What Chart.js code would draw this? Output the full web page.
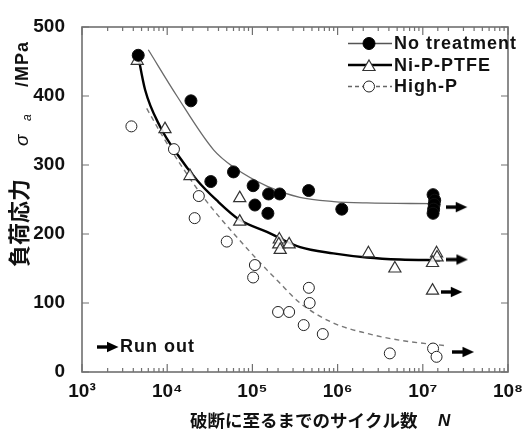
<!DOCTYPE html>
<html>
<head>
<meta charset="utf-8">
<script src="https://cdn.jsdelivr.net/npm/chart.js@4.4.0/dist/chart.umd.min.js"></script>
<style>
  html, body { margin: 0; padding: 0; background: #fff; }
  #wrap { width: 528px; height: 429px; position: relative; }
</style>
</head>
<body>
<div id="wrap"><canvas id="sn"></canvas></div>
<script>
// cycles to failure N and stress amplitude (MPa)
const noTreatN = [4570, 19000, 32500, 60000, 102000, 107000, 152000, 155000, 209000, 457000, 1.12e6, 1.32e7, 1.38e7, 1.36e7, 1.34e7, 1.32e7];
const noTreatS = [459, 393, 276, 290, 270, 242, 230, 258, 258, 263, 236, 257, 249, 243, 236, 230];

const ptfeN = [4450, 9420, 18500, 71000, 71000, 207000, 204000, 212000, 270000, 2.3e6, 4.7e6, 1.45e7, 1.47e7, 1.3e7, 1.3e7];
const ptfeS = [451, 352, 284, 252, 218, 192, 185, 177, 185, 172, 150, 172, 166, 158, 118];

const highPN = [3800, 12000, 23500, 21000, 50000, 107000, 102000, 200000, 270000, 460000, 470000, 400000, 670000, 4.1e6, 1.32e7, 1.45e7];
const highPS = [356, 323, 255, 223, 189, 155, 137, 87, 87, 122, 100, 68, 55, 27, 34, 22];

// fitted S-N curves (traced)
const noTreatFitN = [6000, 13000, 35000, 60000, 150000, 360000, 900000, 2.2e6, 1.3e7];
const noTreatFitS = [467, 400, 322, 297, 269, 253, 247, 245, 244];

const ptfeFitN = [4500, 5500, 8300, 12900, 22400, 38000, 70000, 148000, 363000, 890000, 2.2e6, 5.4e6, 1.6e7];
const ptfeFitS = [462, 409, 355, 317, 278, 249, 221, 203, 181, 172, 166, 163, 162];

const highPFitN = [5750, 8900, 14100, 26300, 60000, 148000, 195000, 363000, 890000, 2.2e6, 5.4e6, 1.9e7];
const highPFitS = [382, 341, 302, 254, 201, 148, 133, 100, 71, 56, 46, 38];

// run-out arrows
const runN = [2.5e7, 2.55e7, 2.19e7, 3.0e7];
const runS = [239, 163, 116, 29];

const yTicks = [0, 100, 200, 300, 400, 500];
const sup = { 3: '³', 4: '⁴', 5: '⁵', 6: '⁶', 7: '⁷', 8: '⁸' };

const pts = (xs, ys) => xs.map((x, i) => ({ x: x, y: ys[i] }));
const isDecade = v => Math.abs(Math.log10(v) - Math.round(Math.log10(v))) < 1e-9;

const LATIN = 'bold 18px "Liberation Sans", Arial, sans-serif';
const CJK = '"Noto Sans CJK JP", "Noto Sans", sans-serif';
const AXIS = '#707070';

function makeArrow() {
    const c = document.createElement('canvas');
    c.width = 22; c.height = 12;
    const g = c.getContext('2d');
    g.fillStyle = '#000';
    g.fillRect(0, 4.3, 12, 3.4);
    g.beginPath();
    g.moveTo(10, 0.8); g.lineTo(21.5, 6); g.lineTo(10, 11.2);
    g.closePath(); g.fill();
    return c;
}
const arrowImg = makeArrow();

const styles = {
    none: { pointStyle: 'circle', radius: 6, backgroundColor: '#000', borderColor: '#000', borderWidth: 1 },
    ptfe: { pointStyle: 'triangle', radius: 7, backgroundColor: '#fff', borderColor: '#333', borderWidth: 1.2 },
    highp: { pointStyle: 'circle', radius: 5.5, backgroundColor: '#fff', borderColor: '#222', borderWidth: 1 }
};

function marker(ctx, st, x, y) {
    ctx.beginPath();
    if (st.pointStyle === 'triangle') {
        const r = st.radius;
        ctx.moveTo(x, y - r);
        ctx.lineTo(x + r * 0.866, y + r / 2);
        ctx.lineTo(x - r * 0.866, y + r / 2);
        ctx.closePath();
    } else {
        ctx.arc(x, y, st.radius, 0, Math.PI * 2);
    }
    ctx.fill();
    ctx.stroke();
}

const decor = {
    id: 'decor',
    afterDraw(chart) {
        const ctx = chart.ctx;
        const ca = chart.chartArea;
        const xs = chart.scales.x, ys = chart.scales.y;
        ctx.save();
        // frame
        ctx.strokeStyle = AXIS;
        ctx.lineWidth = 1.6;
        ctx.strokeRect(ca.left, ca.top, ca.right - ca.left, ca.bottom - ca.top);
        // inward ticks
        ctx.lineWidth = 1.2;
        ctx.beginPath();
        xs.ticks.forEach(t => {
            const px = xs.getPixelForValue(t.value);
            const len = isDecade(t.value) ? 8 : 4;
            ctx.moveTo(px, ca.bottom); ctx.lineTo(px, ca.bottom - len);
            ctx.moveTo(px, ca.top); ctx.lineTo(px, ca.top + len);
        });
        yTicks.forEach(v => {
            const py = ys.getPixelForValue(v);
            ctx.moveTo(ca.left, py); ctx.lineTo(ca.left + 7, py);
            ctx.moveTo(ca.right, py); ctx.lineTo(ca.right - 7, py);
        });
        ctx.stroke();

        // legend
        const rows = [
            { label: 'No treatment', y: 43.5, line: '#555', lw: 1.4, dash: [], st: styles.none },
            { label: 'Ni-P-PTFE', y: 65, line: '#000', lw: 2.4, dash: [], st: styles.ptfe },
            { label: 'High-P', y: 86.5, line: '#666', lw: 1.3, dash: [4, 3], st: styles.highp }
        ];
        rows.forEach(r => {
            ctx.strokeStyle = r.line; ctx.lineWidth = r.lw; ctx.setLineDash(r.dash);
            ctx.beginPath(); ctx.moveTo(348, r.y); ctx.lineTo(392, r.y); ctx.stroke();
            ctx.setLineDash([]);
            ctx.fillStyle = r.st.backgroundColor; ctx.strokeStyle = r.st.borderColor;
            ctx.lineWidth = r.st.borderWidth;
            marker(ctx, r.st, 369, r.y + (r.st.pointStyle === 'triangle' ? 2 : 0));
            ctx.fillStyle = '#111';
            ctx.font = LATIN; ctx.letterSpacing = '1px';
            ctx.textAlign = 'left'; ctx.textBaseline = 'middle';
            ctx.fillText(r.label, 394, r.y + 1);
        });

        // run-out key
        ctx.drawImage(arrowImg, 97, 341);
        ctx.fillText('Run out', 120, 347.5);

        // x title
        ctx.letterSpacing = '0px';
        ctx.font = 'bold 17.5px ' + CJK;
        ctx.fillText('破断に至るまでのサイクル数', 190, 420);
        ctx.font = 'italic bold 17px "Liberation Sans", Arial, sans-serif';
        ctx.fillText('N', 438, 421);

        // y title
        ctx.translate(27.5, 267);
        ctx.rotate(-Math.PI / 2);
        ctx.textBaseline = 'alphabetic';
        ctx.font = 'bold 22px ' + CJK;
        ctx.fillText('負荷応力', 0, -1);
        ctx.font = 'italic 19px "Liberation Sans", Arial, sans-serif';
        ctx.fillText('σ', 121, 0);
        ctx.font = 'italic 12px "Liberation Sans", Arial, sans-serif';
        ctx.fillText('a', 146, 3);
        ctx.font = LATIN; ctx.letterSpacing = '1px';
        ctx.fillText('/MPa', 180, 0);
        ctx.restore();
    }
};

new Chart(document.getElementById('sn'), {
    type: 'scatter',
    data: {
        datasets: [
            { label: 'No treatment fit', data: pts(noTreatFitN, noTreatFitS), showLine: true, pointRadius: 0,
              borderColor: '#6a6a6a', borderWidth: 1.3, cubicInterpolationMode: 'monotone', order: 3 },
            { label: 'Ni-P-PTFE fit', data: pts(ptfeFitN, ptfeFitS), showLine: true, pointRadius: 0,
              borderColor: '#000', borderWidth: 2.4, cubicInterpolationMode: 'monotone', order: 3 },
            { label: 'High-P fit', data: pts(highPFitN, highPFitS), showLine: true, pointRadius: 0,
              borderColor: '#777', borderWidth: 1.4, borderDash: [5, 4], cubicInterpolationMode: 'monotone', order: 3 },
            { label: 'High-P', data: pts(highPN, highPS), pointStyle: 'circle', pointRadius: 5.5,
              backgroundColor: '#fff', borderColor: '#222', borderWidth: 1, order: 2 },
            { label: 'Ni-P-PTFE', data: pts(ptfeN, ptfeS), pointStyle: 'triangle', pointRadius: 7,
              backgroundColor: 'rgba(255,255,255,0.85)', borderColor: '#333', borderWidth: 1.2, order: 2 },
            { label: 'No treatment', data: pts(noTreatN, noTreatS), pointStyle: 'circle', pointRadius: 6,
              backgroundColor: '#000', borderColor: '#111', borderWidth: 1, order: 1 },
            { label: 'Run out', data: pts(runN, runS), pointStyle: arrowImg, pointRadius: 10, order: 1 }
        ]
    },
    options: {
        responsive: true,
        maintainAspectRatio: false,
        animation: false,
        events: [],
        layout: { padding: { top: 27, right: 20, left: 0, bottom: 0 } },
        plugins: { legend: { display: false }, tooltip: { enabled: false } },
        elements: { point: { hoverRadius: 0 } },
        scales: {
            x: {
                type: 'logarithmic', min: 1000, max: 1e8,
                grid: { display: false }, border: { display: false },
                ticks: {
                    autoSkip: false, maxRotation: 0, padding: 0, color: '#111',
                    font: { family: '"Liberation Sans", Arial, sans-serif', size: 19, weight: 'bold' },
                    callback: v => isDecade(v) ? '10' + sup[Math.round(Math.log10(v))] : ''
                },
                afterFit: s => { s.height = 57; }
            },
            y: {
                type: 'linear', min: 0, max: 500,
                grid: { display: false }, border: { display: false },
                ticks: {
                    stepSize: 100, padding: 9, color: '#111',
                    font: { family: '"Liberation Sans", Arial, sans-serif', size: 19, weight: 'bold' }
                },
                afterFit: s => { s.width = 82; }
            }
        }
    },
    plugins: [decor]
});
</script>
</body>
</html>
